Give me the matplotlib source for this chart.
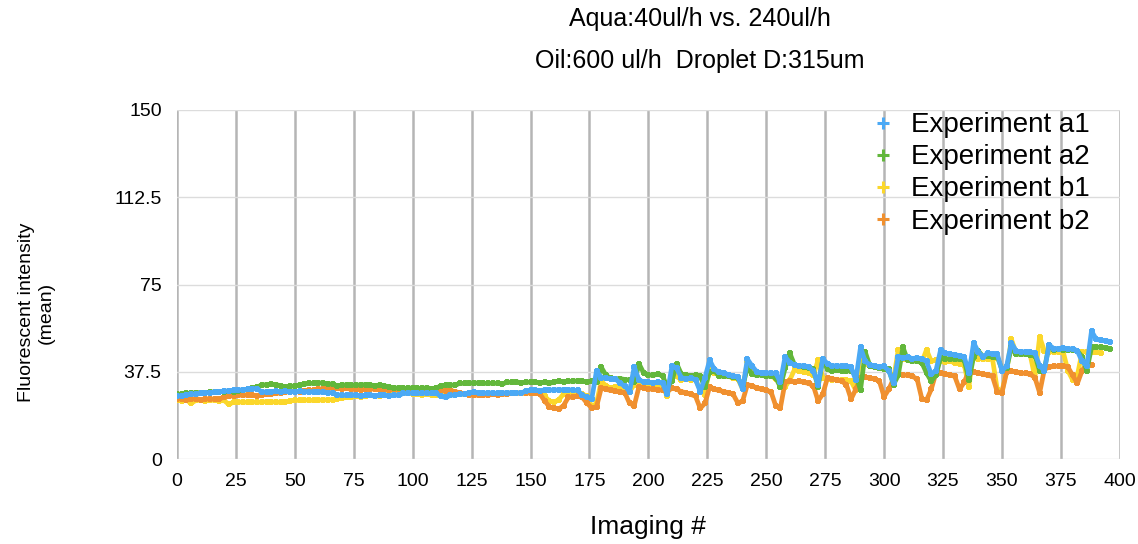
import numpy as np
import matplotlib
matplotlib.use("Agg")
import matplotlib.pyplot as plt
from matplotlib.lines import Line2D

plt.rcParams['font.family'] = ['Liberation Sans', 'DejaVu Sans']

# one value every 2 images, starting at image 0
step = 2

exp_a1 = [
    27.0, 27.3, 27.5, 27.8, 28.0, 28.2, 28.5, 28.6, 28.8, 29.0,
    29.2, 29.4, 29.5, 29.7, 29.8, 30.0, 30.2, 30.3, 28.8, 28.9,
    29.0, 29.1, 29.0, 29.2, 29.0, 28.9, 29.1, 29.0, 28.8, 28.9,
    28.7, 28.8, 28.6, 28.5, 27.6, 27.5, 27.4, 27.5, 27.4, 27.3,
    27.4, 27.5, 27.3, 27.4, 27.5, 27.3, 27.6, 27.4, 28.2, 28.3,
    28.4, 28.2, 28.3, 28.4, 28.2, 28.3, 27.0, 26.5, 27.4, 27.6,
    27.8, 28.0, 28.5, 28.8, 28.4, 28.3, 28.5, 28.4, 28.3, 28.5,
    28.4, 28.6, 28.5, 28.4, 29.2, 29.5, 29.6, 29.4, 29.7, 29.6,
    29.8, 29.7, 29.8, 29.9, 29.6, 29.5, 27.5, 26.5, 26.0, 38.0,
    35.0, 34.8, 34.5, 34.6, 32.5, 31.5, 29.0, 39.6, 34.0, 33.2,
    33.0, 32.8, 33.0, 32.6, 28.0, 40.0, 39.0, 35.0, 34.5, 34.8,
    34.2, 29.0, 35.0, 42.5, 38.5, 37.5, 37.0, 36.2, 35.8, 35.2,
    30.0, 43.0, 40.0, 37.5, 37.0, 37.2, 36.8, 37.0, 33.0, 44.0,
    41.5, 40.5, 40.0, 40.2, 39.5, 38.0, 32.0, 43.0, 41.0, 40.0,
    40.2, 39.8, 40.0, 39.5, 34.0, 48.0, 42.0, 40.5, 40.0, 39.5,
    39.8, 38.0, 32.5, 44.0, 43.5, 43.8, 43.2, 43.5, 43.0, 42.0,
    36.5, 38.0, 47.0, 45.5, 45.0, 44.8, 44.5, 44.0, 37.0, 50.0,
    46.0, 44.0, 45.5, 45.0, 45.2, 38.0, 40.0, 50.0, 46.5, 46.0,
    46.2, 45.8, 45.5, 40.0, 38.0, 49.0, 47.5, 47.5, 47.8, 47.2,
    47.5, 46.5, 42.0, 40.0, 55.0, 51.5, 51.0, 50.8, 50.5,
]

exp_a2 = [
    27.8, 28.0, 28.2, 28.4, 28.5, 28.6, 28.4, 28.8, 28.9, 29.0,
    29.0, 29.2, 29.0, 29.3, 29.5, 30.0, 30.5, 31.0, 31.8, 32.0,
    32.2, 32.0, 31.5, 31.0, 31.2, 31.5, 31.8, 32.2, 32.5, 32.6,
    32.8, 32.6, 32.4, 32.2, 31.5, 31.8, 31.9, 31.7, 31.8, 31.9,
    32.0, 31.8, 31.6, 31.8, 31.5, 31.0, 30.5, 30.6, 30.4, 30.5,
    30.6, 30.4, 30.5, 30.6, 30.3, 30.5, 31.5, 31.8, 31.9, 31.7,
    32.6, 32.5, 32.7, 32.6, 32.8, 32.6, 32.5, 32.7, 32.5, 32.3,
    33.0, 33.0, 33.2, 32.8, 33.0, 33.1, 33.0, 32.9, 33.0, 32.5,
    33.2, 33.5, 33.3, 33.4, 33.5, 33.6, 33.4, 33.3, 33.5, 33.0,
    39.5, 36.0, 34.8, 34.5, 34.6, 34.2, 34.0, 33.0, 41.0, 37.0,
    36.2, 36.0, 36.5, 35.8, 31.0, 33.5, 41.0, 36.5, 36.0, 35.8,
    36.0, 35.5, 31.0, 37.5, 38.0, 35.5, 35.8, 35.5, 35.2, 35.0,
    31.0, 39.5, 36.5, 36.0, 36.2, 35.5, 35.8, 35.0, 31.0, 39.0,
    45.5, 40.5, 40.0, 39.5, 39.2, 38.5, 31.0, 43.0, 38.5, 38.0,
    38.2, 38.0, 37.8, 38.0, 36.0, 29.7, 46.0, 40.0, 39.5, 39.0,
    38.8, 38.5, 32.0, 36.0, 48.0, 42.5, 42.0, 42.2, 41.5, 37.0,
    33.5, 36.0, 43.5, 43.0, 43.2, 42.8, 43.0, 42.5, 34.0, 44.0,
    46.5, 44.0, 44.2, 43.8, 44.0, 38.5, 39.0, 48.0, 45.0, 45.2,
    45.0, 44.8, 44.5, 38.0, 38.5, 49.0, 47.0, 47.2, 46.8, 47.0,
    46.8, 46.5, 44.0, 38.0, 48.0, 48.2, 48.0, 47.8, 47.5,
]

exp_b1 = [
    25.3, 25.0, 25.4, 24.0, 25.2, 25.3, 25.1, 25.4, 25.2, 25.0,
    25.2, 23.5, 24.5, 24.6, 24.4, 24.5, 24.6, 24.4, 24.5, 24.7,
    24.6, 24.5, 24.4, 24.5, 25.0, 25.3, 25.2, 25.4, 25.3, 25.2,
    25.3, 25.5, 25.4, 25.6, 26.0, 26.2, 26.5, 26.8, 27.0, 26.8,
    27.2, 27.4, 27.0, 27.2, 27.5, 27.8, 28.0, 28.4, 28.2, 28.4,
    28.0, 27.8, 27.6, 27.9, 27.5, 27.7, 27.8, 28.0, 27.6, 27.8,
    28.0, 27.8, 28.2, 28.0, 27.8, 28.0, 28.3, 28.1, 28.0, 28.2,
    28.0, 28.3, 28.5, 28.2, 28.4, 28.5, 28.3, 28.6, 27.0, 25.0,
    24.5, 25.5, 28.0, 28.2, 28.0, 27.8, 28.0, 27.0, 22.5, 24.0,
    33.5, 31.5, 30.5, 30.8, 30.5, 30.0, 29.0, 32.0, 33.5, 32.5,
    32.0, 31.8, 32.2, 31.5, 27.0, 38.0, 35.5, 34.0, 34.5, 34.2,
    34.0, 30.0, 27.5, 40.0, 37.0, 36.5, 35.8, 35.5, 35.0, 34.5,
    30.0, 42.0, 38.0, 36.8, 36.5, 36.0, 35.8, 34.5, 34.0, 31.0,
    34.0, 38.5, 38.0, 37.5, 37.0, 36.0, 42.5, 35.0, 34.5, 34.0,
    34.2, 33.8, 34.0, 33.5, 29.5, 46.0, 41.0, 40.0, 40.2, 39.5,
    39.0, 38.0, 34.0, 47.0, 43.0, 42.5, 42.8, 42.0, 41.5, 47.0,
    42.0, 42.5, 42.2, 41.8, 42.0, 41.5, 41.0, 40.5, 31.0, 48.5,
    43.0, 43.2, 42.8, 43.0, 30.0, 29.0, 38.0, 51.5, 45.5, 45.0,
    45.2, 44.8, 35.0, 52.5, 46.5, 46.0, 46.2, 45.8, 46.0, 38.0,
    34.0, 36.0, 46.0, 46.2, 45.8, 46.0, 45.5,
]

exp_b2 = [
    25.8, 26.0, 25.5, 25.8, 26.0, 25.6, 25.8, 26.0, 25.7, 26.0,
    26.5, 27.0, 27.2, 27.5, 27.4, 27.6, 27.5, 27.3, 27.6, 27.8,
    28.0, 28.2, 28.5, 28.8, 29.0, 29.2, 29.0, 29.3, 29.5, 29.6,
    30.0, 30.3, 30.5, 30.5, 30.4, 30.2, 30.4, 30.0, 30.1, 29.8,
    30.0, 30.2, 30.0, 29.8, 30.0, 29.9, 30.1, 29.8, 29.6, 29.5,
    29.7, 29.6, 29.4, 29.5, 29.3, 29.5, 29.6, 29.4, 29.5, 29.0,
    28.5, 28.0, 27.6, 27.5, 27.4, 27.6, 27.5, 27.8, 27.6, 27.8,
    28.0, 28.2, 28.4, 28.3, 28.5, 28.4, 28.3, 28.0, 25.0, 22.5,
    22.0, 21.5, 23.0, 26.5, 26.8, 27.0, 26.5, 24.0, 22.0, 22.5,
    30.5, 30.0, 29.5, 29.2, 29.0, 28.5, 24.0, 23.0, 31.0, 30.5,
    30.0, 30.2, 29.8, 29.5, 29.0, 30.5, 30.0, 29.0, 28.5, 27.8,
    27.0, 21.8, 24.0, 31.0, 30.0, 29.5, 29.0, 28.5, 27.8, 24.0,
    25.0, 32.0, 31.5, 30.5, 30.0, 29.5, 29.0, 23.0, 22.0, 33.0,
    33.5, 33.2, 33.5, 33.0, 32.5, 31.5, 25.0, 28.0, 35.0, 34.5,
    34.0, 33.5, 32.0, 25.8, 30.0, 35.0, 35.2, 34.8, 34.5, 33.5,
    26.8, 30.0, 34.5, 36.5, 36.2, 36.0, 35.5, 34.5, 26.0, 25.3,
    30.0, 37.0, 36.8, 36.5, 36.2, 35.5, 30.0, 33.0, 38.0, 37.5,
    37.0, 36.5, 36.0, 35.5, 29.0, 28.5, 37.5, 37.8, 37.5, 37.0,
    36.8, 36.5, 35.0, 28.5, 38.5, 39.5, 39.8, 40.0, 40.2, 39.5,
    36.0, 32.5, 38.0, 41.0, 40.5,
]

labels = ["Experiment a1", "Experiment a2", "Experiment b1", "Experiment b2"]
colors = ["#4BA9F5", "#62B73B", "#FBD72B", "#F0902F"]
series = [exp_a1, exp_a2, exp_b1, exp_b2]

y_ticks = [0, 37.5, 75, 112.5, 150]
y_tick_labels = ["0", "37.5", "75", "112.5", "150"]
x_ticks = list(range(0, 401, 25))

fig = plt.figure(figsize=(11.38, 5.44), dpi=100)
ax = fig.add_axes([0.1555, 0.156, 0.8285, 0.642])

# draw order: b1, b2, a2, a1 (a1 on top)
for i in [2, 3, 1, 0]:
    vals = series[i]
    x = np.arange(len(vals)) * step
    ax.plot(x, vals, linestyle='-', linewidth=3.4, marker='+', markersize=5,
            markeredgewidth=2.8, color=colors[i], solid_capstyle='round',
            solid_joinstyle='round')

ax.set_xlim(0, 400)
ax.set_ylim(0, 150)
ax.set_xticks(x_ticks)
ax.set_yticks(y_ticks)
ax.set_yticklabels(y_tick_labels)
ax.tick_params(length=0, labelsize=14)
ax.tick_params(axis='x', pad=10)
ax.tick_params(axis='y', pad=11)

ax.grid(axis='x', color='#b5b5b5', linewidth=1.8)
ax.grid(axis='y', color='#dcdcdc', linewidth=1.0)
ax.set_axisbelow(True)
for s in ax.spines.values():
    s.set_visible(False)

ax.set_xlabel("Imaging #", fontsize=19, labelpad=18)
ax.set_ylabel("Fluorescent intensity\n(mean)", fontsize=14)
ax.yaxis.set_label_coords(-0.13, 0.42)

fig.text(0.615, 0.965, "Aqua:40ul/h vs. 240ul/h", fontsize=18,
         ha='center', va='center')
fig.text(0.615, 0.888, "Oil:600 ul/h  Droplet D:315um", fontsize=18,
         ha='center', va='center')

handles = [Line2D([], [], linestyle='none', marker='+', markersize=9,
                  markeredgewidth=2.2, color=c) for c in colors]
ax.legend(handles, labels, loc='upper right', frameon=False,
          fontsize=20, handlelength=0.8, handletextpad=0.6,
          labelspacing=0.22, borderaxespad=0.0,
          bbox_to_anchor=(0.98, 1.025))

fig.savefig("out.png", dpi=100)
